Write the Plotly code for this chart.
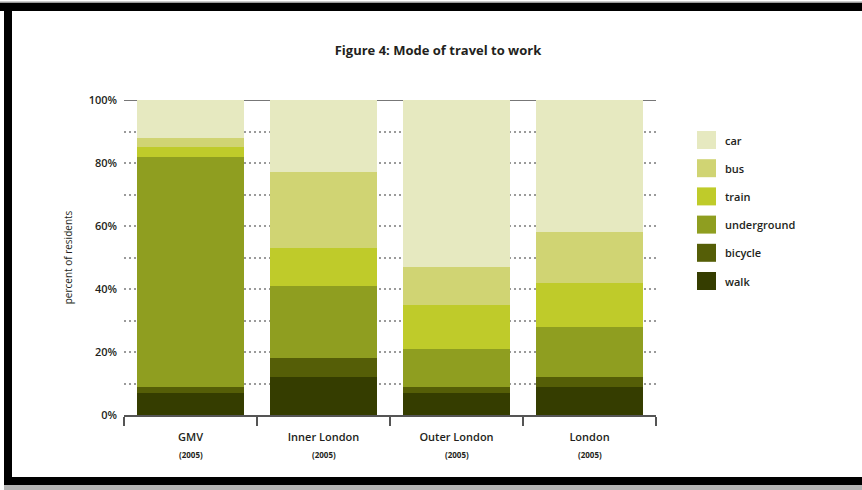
import plotly.graph_objects as go

# ---- data ----
categories = ["GMV", "Inner London", "Outer London", "London"]
years = ["(2005)", "(2005)", "(2005)", "(2005)"]
modes = ["walk", "bicycle", "underground", "train", "bus", "car"]
walk = [7, 12, 7, 9]
bicycle = [2, 6, 2, 3]
underground = [73, 23, 12, 16]
train = [3, 12, 14, 14]
bus = [3, 24, 12, 16]
car = [12, 23, 53, 42]
series = [walk, bicycle, underground, train, bus, car]
colors = ["#353d00", "#555e07", "#8f9e20", "#bfcb2a", "#d0d473", "#e6e9c0"]
y_ticks = [0, 20, 40, 60, 80, 100]
y_ticktext = ["0%", "20%", "40%", "60%", "80%", "100%"]

W, H = 862, 490
L, R, T, B = 124, 206, 100, 75
pw, ph = W - L - R, H - T - B

def px(x):
    return (x - L) / pw

def py(y):
    return (H - B - y) / ph

FONT = "Open Sans"
TXT = "#231f20"

fig = go.Figure()
for name, vals, col in zip(modes, series, colors):
    fig.add_trace(go.Bar(x=categories, y=vals, name=name, marker_color=col,
                         marker_line_width=0, width=0.8, showlegend=False))

shapes = []
annotations = []

# top solid line at 100%
shapes.append(dict(type="line", xref="paper", yref="y", x0=0, x1=1, y0=100, y1=100,
                   line=dict(color="#777777", width=2), layer="below"))

# legend (drawn manually, top = car)
leg_y0 = 140
for i, (name, col) in enumerate(zip(modes[::-1], colors[::-1])):
    cy = leg_y0 + i * 28.2
    shapes.append(dict(type="rect", xref="paper", yref="paper",
                       x0=px(697), x1=px(716), y0=py(cy - 9), y1=py(cy + 9),
                       fillcolor=col, line=dict(width=0)))
    annotations.append(dict(xref="paper", yref="paper", x=px(723), y=py(cy),
                            text=name, showarrow=False, xanchor="left", yanchor="middle",
                            font=dict(family=FONT, size=11, color=TXT, weight=600)))

# category year labels
for c, yr in zip(categories, years):
    annotations.append(dict(xref="x", yref="paper", x=c, y=py(454), text=yr,
                            showarrow=False, xanchor="center", yanchor="middle",
                            font=dict(family=FONT, size=8, color=TXT, weight=700)))

# black frame
frame = "#000000"
shapes += [
    dict(type="rect", xref="paper", yref="paper", x0=px(-5), x1=px(870), y0=py(11), y1=py(3),
         fillcolor=frame, line=dict(width=0), layer="above"),
    dict(type="rect", xref="paper", yref="paper", x0=px(4), x1=px(12), y0=py(485), y1=py(3),
         fillcolor=frame, line=dict(width=0), layer="above"),
    dict(type="rect", xref="paper", yref="paper", x0=px(4), x1=px(870), y0=py(485), y1=py(477),
         fillcolor=frame, line=dict(width=0), layer="above"),
    dict(type="rect", xref="paper", yref="paper", x0=px(4), x1=px(870), y0=py(490), y1=py(485),
         fillcolor="#b5b5b5", line=dict(width=0), layer="above"),
    dict(type="rect", xref="paper", yref="paper", x0=px(-5), x1=px(870), y0=py(3), y1=py(1.5),
         fillcolor="#9a9a9a", line=dict(width=0), layer="above"),
]

fig.update_layout(
    width=W, height=H,
    margin=dict(l=L, r=R, t=T, b=B, pad=0),
    paper_bgcolor="white", plot_bgcolor="white",
    barmode="stack", bargap=0.2,
    showlegend=False,
    title=dict(text="Figure 4: Mode of travel to work", xref="container", x=438 / W,
               xanchor="center", yref="container", y=1 - 50 / H, yanchor="middle",
               font=dict(family=FONT, size=13, color=TXT, weight=700)),
    shapes=shapes, annotations=annotations,
    font=dict(family=FONT, color=TXT),
)

fig.update_xaxes(
    type="category", tickson="boundaries", ticks="outside", ticklen=9, tickwidth=1.5,
    tickcolor="#555555", showline=True, linecolor="#555555", linewidth=1.5,
    showgrid=False, tickfont=dict(family=FONT, size=11, color=TXT, weight=600),
    ticklabelstandoff=11,
)
fig.update_yaxes(
    range=[0, 100], tickvals=y_ticks, ticktext=y_ticktext, ticks="",
    showline=False, zeroline=False, showgrid=True, gridcolor="#9a9a9a", gridwidth=1.5,
    griddash="2px,3px",
    minor=dict(dtick=10, showgrid=True, gridcolor="#9a9a9a", gridwidth=1.5, griddash="2px,3px"),
    tickfont=dict(family=FONT, size=11, color=TXT, weight=600), ticklabelstandoff=6,
    title=dict(text="percent of residents", font=dict(family=FONT, size=10, color=TXT),
               standoff=14),
)

fig.write_html("out.html")
